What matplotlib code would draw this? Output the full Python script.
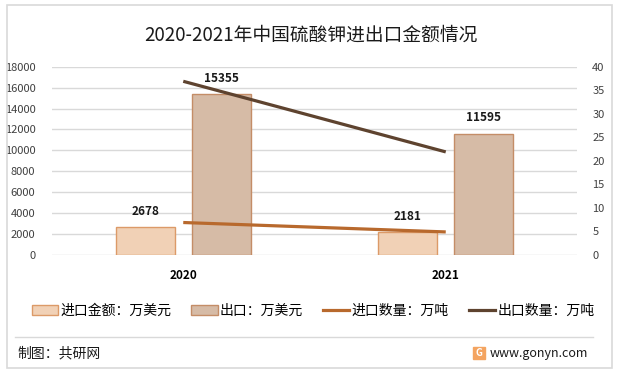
import numpy as np
import matplotlib.pyplot as plt
from matplotlib.patches import Rectangle, Patch
from matplotlib.lines import Line2D

plt.rcParams['font.family'] = ['Noto Sans CJK SC', 'DejaVu Sans']

#----------数据-------------
years = ['2020', '2021']
imp_value = [2678, 2181]      # 进口金额：万美元
exp_value = [15355, 11595]    # 出口：万美元
imp_qty = [6.9, 4.9]          # 进口数量：万吨
exp_qty = [36.9, 21.9]        # 出口数量：万吨

W, H = 621, 375
fig = plt.figure(figsize=(W/100, H/100), dpi=100)
fig.patch.set_facecolor('white')

def fx(px):
    return px/W

def fy(py):
    return 1-py/H

# 外框
fig.add_artist(Rectangle((fx(7), fy(368)), fx(612)-fx(7), fy(5)-fy(368),
                         transform=fig.transFigure, fill=False,
                         edgecolor='#d9d9d9', lw=1.2))

ax = fig.add_axes([fx(52), fy(255), fx(577)-fx(52), fy(66.7)-fy(255)])
ax2 = ax.twinx()

x = np.arange(len(years))
bw = 0.225
off = 0.144
c_imp = '#f1d1b6'
c_imp_e = '#dc9a68'
c_exp = '#d6bba6'
c_exp_e = '#c48d67'
c_line1 = '#b8692d'
c_line2 = '#5e432f'

ax.bar(x-off, imp_value, bw, color=c_imp, edgecolor=c_imp_e, lw=1, zorder=2)
ax.bar(x+off, exp_value, bw, color=c_exp, edgecolor=c_exp_e, lw=1, zorder=2)

for i in range(len(years)):
    ax.text(x[i]-off, imp_value[i]+900, str(imp_value[i]), ha='center',
            va='bottom', fontsize=8.5, fontweight='bold', color='#1a1a1a')
    ax.text(x[i]+off, exp_value[i]+900, str(exp_value[i]), ha='center',
            va='bottom', fontsize=8.5, fontweight='bold', color='#1a1a1a')

ax.set_xlim(-0.5, 1.5)
ax.set_ylim(0, 18000)
ax.set_yticks(np.arange(0, 18001, 2000))
ax.set_xticks(x)
ax.set_xticklabels(years, fontsize=8.5, fontweight='bold')
ax.tick_params(axis='x', length=0, pad=10)
ax.tick_params(axis='y', length=0, labelsize=8, labelcolor='#404040', pad=12)
ax.grid(axis='y', color='#d9d9d9', lw=1)
ax.set_axisbelow(True)

ax2.plot(x, imp_qty, color=c_line1, lw=2.3, solid_capstyle='butt')
ax2.plot(x, exp_qty, color=c_line2, lw=2.3, solid_capstyle='butt')
ax2.set_ylim(0, 40)
ax2.set_yticks(np.arange(0, 41, 5))
ax2.tick_params(axis='y', length=0, labelsize=8, labelcolor='#404040', pad=11)

for a in (ax, ax2):
    for s in a.spines.values():
        s.set_visible(False)

# 标题
fig.text(0.5, fy(35), '2020-2021年中国硫酸钾进出口金额情况', ha='center',
         va='center', fontsize=13.5, color='#1a1a1a')

# 图例
handles = [Patch(facecolor=c_imp, edgecolor=c_imp_e),
           Patch(facecolor=c_exp, edgecolor=c_exp_e),
           Line2D([], [], color=c_line1, lw=2.3),
           Line2D([], [], color=c_line2, lw=2.3)]
labels = ['进口金额：万美元', '出口：万美元', '进口数量：万吨', '出口数量：万吨']
fig.legend(handles, labels, loc='center', bbox_to_anchor=(fx(313), fy(311)),
           ncol=4, frameon=False, fontsize=10, handlelength=1.9,
           handleheight=0.8, handletextpad=0.15, columnspacing=1.45)

# 底部
fig.add_artist(Line2D([fx(15), fx(593)], [fy(337), fy(337)],
                      transform=fig.transFigure, color='#d9d9d9', lw=1))
fig.text(fx(17), fy(353), '制图：共研网', ha='left', va='center',
         fontsize=10, color='#1a1a1a')
fig.add_artist(Rectangle((fx(473), fy(359)), fx(12), fy(347)-fy(359),
                         transform=fig.transFigure, color='#f4a460'))
fig.text(fx(479), fy(353), 'G', ha='center', va='center', fontsize=7,
         fontweight='bold', color='white')
fig.text(fx(490), fy(353), 'www.gonyn.com', ha='left', va='center',
         fontsize=9, color='#1a1a1a')

plt.savefig('out.png', dpi=100)
